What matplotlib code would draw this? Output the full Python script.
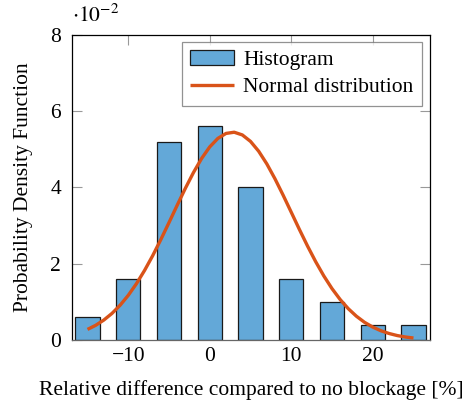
import numpy as np
import matplotlib
matplotlib.use('Agg')
import matplotlib.pyplot as plt
from matplotlib.ticker import FuncFormatter

plt.rcParams['font.family'] = ['Liberation Serif', 'DejaVu Serif']
plt.rcParams['mathtext.fontset'] = 'stix'
plt.rcParams['axes.unicode_minus'] = True

# histogram of the relative difference (bin centres, density)
bin_centers = [-15, -10, -5, 0, 5, 10, 15, 20, 25]
density = [0.006, 0.016, 0.052, 0.056, 0.040, 0.016, 0.010, 0.004, 0.004]

# fitted normal curve, sampled every 1 %
curve_x = list(range(-15, 26))
curve_y = [0.279, 0.386, 0.524, 0.698, 0.913, 1.172, 1.476, 1.825, 2.213,
           2.636, 3.080, 3.532, 3.975, 4.391, 4.760, 5.064, 5.287, 5.417,
           5.448, 5.377, 5.208, 4.951, 4.619, 4.229, 3.800, 3.351, 2.900,
           2.464, 2.054, 1.680, 1.349, 1.063, 0.822, 0.624, 0.464, 0.340,
           0.244, 0.172, 0.118, 0.080, 0.053]
curve_y = [v / 100 for v in curve_y]

x_ticks = [-10, 0, 10, 20]
y_ticks = [0, 0.02, 0.04, 0.06, 0.08]
fs = 15.5

fig = plt.figure(figsize=(4.77, 4.01), dpi=100)
ax = fig.add_axes([0.151, 0.152, 0.750, 0.761])

bars = ax.bar(bin_centers, density, width=3.0, color='#63a8d8',
              edgecolor='#1a1a1a', linewidth=0.9, zorder=2)
line, = ax.plot(curve_x, curve_y, color='#d95319', linewidth=2.4, zorder=3,
                solid_capstyle='butt')

ax.set_xlim(-16.9, 27.0)
ax.set_ylim(0, 0.08)
ax.set_xticks(x_ticks)
ax.set_yticks(y_ticks)
ax.yaxis.set_major_formatter(FuncFormatter(lambda v, p: '%g' % round(v * 100, 6)))
ax.tick_params(direction='in', length=7, width=0.8, color='#999999',
               labelsize=fs, top=True, right=True)
ax.tick_params(axis='y', pad=8)
ax.tick_params(axis='x', pad=5)
for s in ax.spines.values():
    s.set_linewidth(0.9)
ax.spines['bottom'].set_color('#666666')

ax.text(0.0, 1.025, r'$\cdot 10^{-2}$', transform=ax.transAxes, fontsize=fs,
        ha='left', va='bottom')

ax.set_xlabel('Relative difference compared to no blockage [%]', fontsize=fs,
              labelpad=10.5)
ax.set_ylabel('Probability Density Function', fontsize=fs, labelpad=12)

leg = ax.legend([bars, line], ['Histogram', 'Normal distribution'],
                loc='upper right', fontsize=fs, frameon=True, fancybox=False,
                borderpad=0.38, handlelength=2.05, handletextpad=0.42,
                labelspacing=0.33, borderaxespad=0.0,
                bbox_to_anchor=(0.978, 0.977))
leg.get_frame().set_edgecolor('#777777')
leg.get_frame().set_linewidth(0.9)

fig.savefig('out.png', dpi=100)
